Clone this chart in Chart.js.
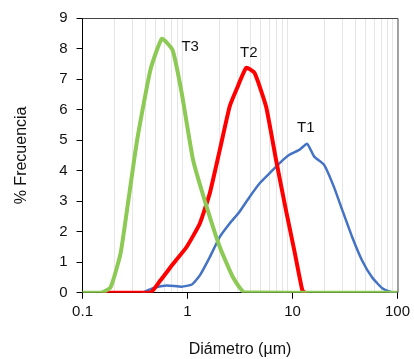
<!DOCTYPE html>
<html>
<head>
<meta charset="utf-8">
<script src="https://cdn.jsdelivr.net/npm/chart.js@4"></script>
<style>
  html, body { margin: 0; padding: 0; background: #fff; }
  #wrap { width: 414px; height: 359px; }
</style>
</head>
<body>
<div id="wrap"><canvas id="chart" width="414" height="359"></canvas></div>
<script>
// Curvas de distribución de tamaño
const t1X = [0.37, 0.475, 0.635, 0.88, 1.1, 1.31, 1.63, 2.03, 2.52, 3.12, 3.9, 4.85, 6.03, 7.5, 9.33, 11.6, 13.8, 16.1, 20.0, 24.8, 29.8, 37.0, 46.0, 57.2, 71.1, 88.4, 100];
const t1Y = [0, 0.16, 0.24, 0.2, 0.27, 0.57, 1.17, 1.83, 2.27, 2.65, 3.14, 3.58, 3.91, 4.24, 4.52, 4.68, 4.88, 4.46, 4.19, 3.47, 2.71, 1.83, 1.06, 0.51, 0.16, 0.02, 0];

const t2X = [0.16, 0.44, 0.55, 0.73, 0.98, 1.31, 1.63, 2.03, 2.52, 2.92, 3.63, 4.35, 5.6, 6.97, 8.67, 10.4, 12.4, 13.2];
const t2Y = [0, 0, 0.4, 0.95, 1.5, 2.27, 3.26, 4.68, 6.1, 6.65, 7.37, 7.2, 6.1, 4.35, 2.7, 1.39, 0.08, 0];

const t3X = [0.1, 0.15, 0.185, 0.23, 0.27, 0.331, 0.443, 0.57, 0.72, 0.88, 1.13, 1.52, 2.03, 2.71, 3.49, 100];
const t3Y = [0, 0, 0.18, 1.28, 2.9, 5.0, 7.3, 8.32, 7.95, 6.55, 4.35, 2.82, 1.5, 0.51, 0.02, 0];

const xTicks = [0.1, 0.2, 0.3, 0.4, 0.5, 0.6, 0.7, 0.8, 0.9, 1, 2, 3, 4, 5, 6, 7, 8, 9, 10, 20, 30, 40, 50, 60, 70, 80, 90, 100];
const xMajor = [0.1, 1, 10, 100];

// Etiquetas de las curvas
const labelText = ['T1', 'T2', 'T3'];
const labelX = [13.4, 3.84, 1.06];
const labelY = [5.39, 7.86, 8.05];

const pts = (xs, ys) => xs.map((x, i) => ({ x: x, y: ys[i] }));
const isMajor = v => xMajor.some(m => Math.abs(m - v) < 1e-9);

const frameAndLabels = {
    id: 'frameAndLabels',
    afterDatasetsDraw(chart) {
        const { ctx, chartArea: a, scales } = chart;
        ctx.save();
        ctx.strokeStyle = '#444';
        ctx.lineWidth = 1;
        ctx.beginPath();
        ctx.moveTo(a.left, a.top + 0.5);
        ctx.lineTo(a.right + 0.5, a.top + 0.5);
        ctx.lineTo(a.right + 0.5, a.bottom);
        ctx.stroke();
        ctx.fillStyle = '#111';
        ctx.font = '15px "Liberation Sans", Arial, sans-serif';
        ctx.textAlign = 'center';
        ctx.textBaseline = 'middle';
        labelText.forEach((t, i) => {
            ctx.fillText(t, scales.x.getPixelForValue(labelX[i]), scales.y.getPixelForValue(labelY[i]));
        });
        ctx.restore();
    }
};

new Chart(document.getElementById('chart').getContext('2d'), {
    type: 'scatter',
    data: {
        datasets: [
            { label: 'T3', data: pts(t3X, t3Y), borderColor: '#8dc955', borderWidth: 4 },
            { label: 'T2', data: pts(t2X, t2Y), borderColor: '#ff0000', borderWidth: 4 },
            { label: 'T1', data: pts(t1X, t1Y), borderColor: '#4472c4', borderWidth: 2.5 }
        ].map(d => Object.assign(d, {
            showLine: true,
            pointRadius: 0,
            tension: 0.15,
            borderJoinStyle: 'round',
            borderCapStyle: 'round'
        }))
    },
    options: {
        responsive: false,
        animation: false,
        layout: { padding: { left: 12, right: 12, top: 15, bottom: 0 } },
        plugins: {
            legend: { display: false },
            tooltip: { enabled: false }
        },
        scales: {
            x: {
                type: 'logarithmic',
                min: 0.1,
                max: 100,
                afterBuildTicks: axis => { axis.ticks = xTicks.map(v => ({ value: v })); },
                grid: {
                    color: ctx => isMajor(ctx.tick.value) ? 'rgba(0,0,0,0)' : '#e6e6e6',
                    tickColor: ctx => isMajor(ctx.tick.value) ? '#000' : 'rgba(0,0,0,0)',
                    tickLength: 6,
                    lineWidth: 1
                },
                border: { color: '#000', width: 1 },
                ticks: {
                    autoSkip: false,
                    maxRotation: 0,
                    color: '#111',
                    padding: 4,
                    font: { family: '"Liberation Sans", Arial, sans-serif', size: 15 },
                    callback: v => isMajor(v) ? String(v) : ''
                },
                title: {
                    display: true,
                    text: 'Diámetro (µm)',
                    color: '#111',
                    padding: { top: 15, bottom: 0 },
                    font: { family: '"Liberation Sans", Arial, sans-serif', size: 16 }
                }
            },
            y: {
                min: 0,
                max: 9,
                ticks: {
                    stepSize: 1,
                    color: '#111',
                    padding: 9,
                    font: { family: '"Liberation Sans", Arial, sans-serif', size: 15 }
                },
                grid: { drawOnChartArea: false, tickLength: 6, tickColor: '#000' },
                border: { color: '#000', width: 1 },
                title: {
                    display: true,
                    text: '% Frecuencia',
                    color: '#111',
                    padding: { top: 0, bottom: 19 },
                    font: { family: '"Liberation Sans", Arial, sans-serif', size: 16 }
                }
            }
        }
    },
    plugins: [frameAndLabels]
});
</script>
</body>
</html>
